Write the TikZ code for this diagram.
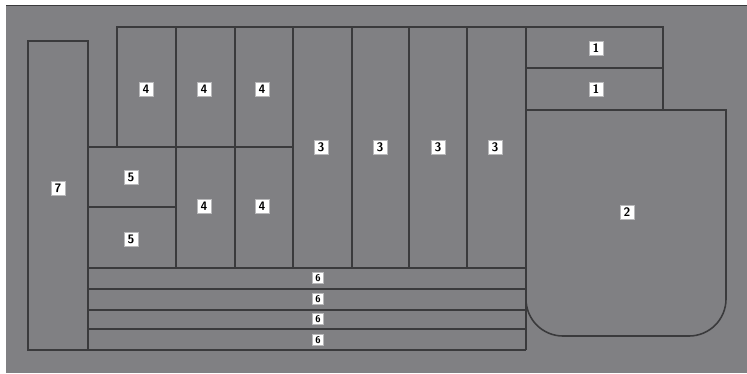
\documentclass[tikz,border=0pt]{standalone}
\usepackage{tikz}
\usetikzlibrary{positioning}
\definecolor{bxgray}{HTML}{808083}
\definecolor{bxline}{HTML}{3A3A3C}
\definecolor{bxedge}{HTML}{B8B8BA}

\begin{document}
\begin{tikzpicture}[x=0.02cm, y=-0.02cm, line width=0.9pt,
    tag/.style={fill=white, draw=bxedge, line width=0.4pt, inner sep=0pt, minimum size=0.28cm, font=\fontsize{7}{7}\selectfont\sffamily\bfseries},
    tagsmall/.style={tag, minimum size=0.21cm, font=\fontsize{5.5}{5.5}\selectfont\sffamily\bfseries}]
    \useasboundingbox (0,0) rectangle (747,373);
    \fill[white] (0,0) rectangle (747,373);
    \fill[bxgray] (6,5) rectangle (747,373);
    \draw[bxline, line width=0.6pt] (6,5.5) -- (747,5.5);
    % left column
    \draw[bxline] (28,41) rectangle (88,350);
    % upper block
    \draw[bxline] (117,147) -- (117,27) -- (663,27) -- (663,110) -- (526,110);
    \draw[bxline] (526,68) -- (663,68);
    \draw[bxline] (88,147) -- (293,147);
    \draw[bxline] (88,207) -- (176,207);
    \foreach \xv in {176,235,293,352,409,467}
      \draw[bxline] (\xv,27) -- (\xv,268);
    \draw[bxline] (526,27) -- (526,350);
    % shelves
    \foreach \yv in {268,289,310,329,350}
      \draw[bxline] (88,\yv) -- (526,\yv);
    % big tray
    \draw[bxline] (526,200) [rounded corners=0.74cm] -- (526,336) -- (726,336) -- (726,200) [sharp corners] -- (726,110) -- (526,110);
    % labels
    \node[tag] (lbl7) at (58,188) {7};
    \node[tag] (lbl4a) at (146,89) {4};
    \node[tag] (lbl4b) at (204,89) {4};
    \node[tag] (lbl4c) at (262,89) {4};
    \node[tag] (lbl4d) at (204,206) {4};
    \node[tag] (lbl4e) at (262,206) {4};
    \node[tag] (lbl5a) at (131,177) {5};
    \node[tag] (lbl5b) at (131,239) {5};
    \node[tag] (lbl3a) at (321,147) {3};
    \node[tag] (lbl3b) at (380,147) {3};
    \node[tag] (lbl3c) at (438,147) {3};
    \node[tag] (lbl3d) at (495,147) {3};
    \node[tag] (lbl1a) at (596,48) {1};
    \node[tag] (lbl1b) at (596,89) {1};
    \node[tag] (lbl2) at (627,212) {2};
    \node[tagsmall] (lbl6a) at (318,278) {6};
    \node[tagsmall] (lbl6b) at (318,299) {6};
    \node[tagsmall] (lbl6c) at (318,319) {6};
    \node[tagsmall] (lbl6d) at (318,340) {6};
\end{tikzpicture}
\end{document}
